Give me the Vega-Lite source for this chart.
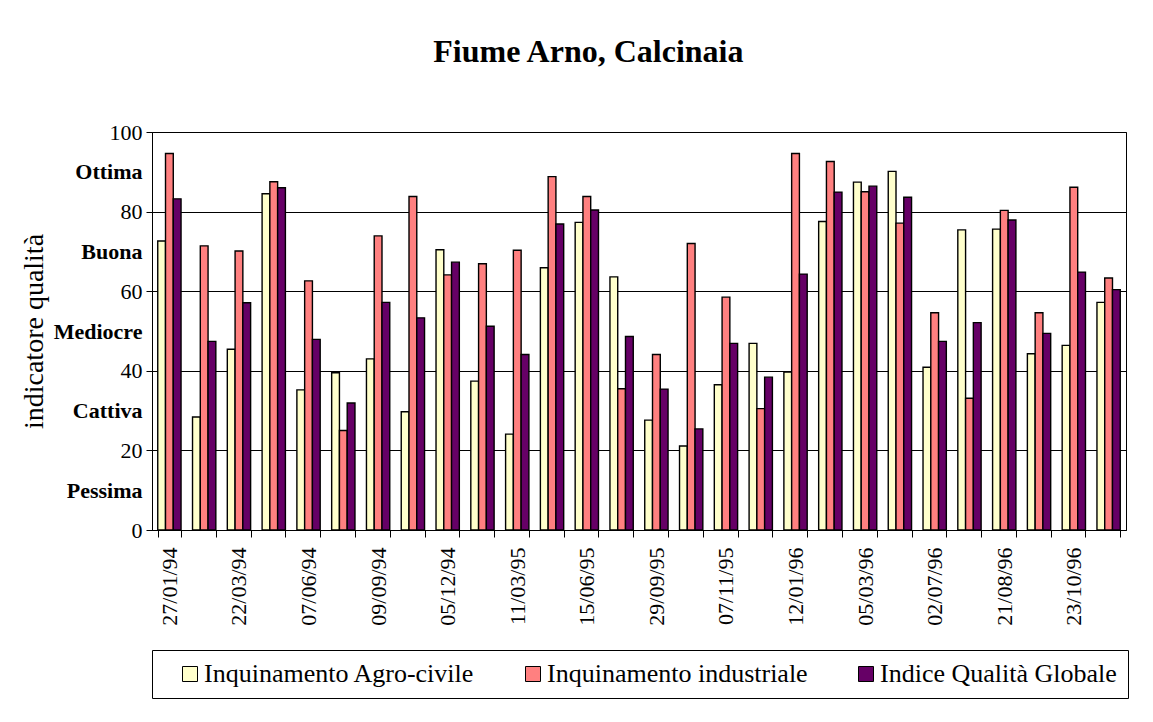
{
  "$schema": "https://vega.github.io/schema/vega-lite/v6.json",
  "autosize": "none",
  "width": 974,
  "height": 398,
  "padding": {"left": 152, "top": 132, "right": 27, "bottom": 192},
  "background": "white",
  "config": {
    "font": "Liberation Serif",
    "view": {"stroke": "black", "strokeWidth": 1}
  },
  "title": {
    "text": "Fiume Arno, Calcinaia",
    "font": "Liberation Serif",
    "fontSize": 32,
    "fontWeight": "bold",
    "color": "black",
    "anchor": "middle",
    "frame": "bounds",
    "dx": 14,
    "offset": 52
  },
  "data": {
    "values": [
      {"data": "27/01/94", "serie": "Inquinamento Agro-civile", "valore": 72.6},
      {"data": "27/01/94", "serie": "Inquinamento industriale", "valore": 94.6},
      {"data": "27/01/94", "serie": "Indice Qualità Globale", "valore": 83.2},
      {"data": "g02", "serie": "Inquinamento Agro-civile", "valore": 28.4},
      {"data": "g02", "serie": "Inquinamento industriale", "valore": 71.4},
      {"data": "g02", "serie": "Indice Qualità Globale", "valore": 47.4},
      {"data": "22/03/94", "serie": "Inquinamento Agro-civile", "valore": 45.4},
      {"data": "22/03/94", "serie": "Inquinamento industriale", "valore": 70.1},
      {"data": "22/03/94", "serie": "Indice Qualità Globale", "valore": 57.1},
      {"data": "g04", "serie": "Inquinamento Agro-civile", "valore": 84.5},
      {"data": "g04", "serie": "Inquinamento industriale", "valore": 87.5},
      {"data": "g04", "serie": "Indice Qualità Globale", "valore": 86.0},
      {"data": "07/06/94", "serie": "Inquinamento Agro-civile", "valore": 35.2},
      {"data": "07/06/94", "serie": "Inquinamento industriale", "valore": 62.6},
      {"data": "07/06/94", "serie": "Indice Qualità Globale", "valore": 47.9},
      {"data": "g06", "serie": "Inquinamento Agro-civile", "valore": 39.5},
      {"data": "g06", "serie": "Inquinamento industriale", "valore": 25.0},
      {"data": "g06", "serie": "Indice Qualità Globale", "valore": 31.9},
      {"data": "09/09/94", "serie": "Inquinamento Agro-civile", "valore": 43.0},
      {"data": "09/09/94", "serie": "Inquinamento industriale", "valore": 73.9},
      {"data": "09/09/94", "serie": "Indice Qualità Globale", "valore": 57.2},
      {"data": "g08", "serie": "Inquinamento Agro-civile", "valore": 29.7},
      {"data": "g08", "serie": "Inquinamento industriale", "valore": 83.8},
      {"data": "g08", "serie": "Indice Qualità Globale", "valore": 53.3},
      {"data": "05/12/94", "serie": "Inquinamento Agro-civile", "valore": 70.4},
      {"data": "05/12/94", "serie": "Inquinamento industriale", "valore": 64.1},
      {"data": "05/12/94", "serie": "Indice Qualità Globale", "valore": 67.3},
      {"data": "g10", "serie": "Inquinamento Agro-civile", "valore": 37.4},
      {"data": "g10", "serie": "Inquinamento industriale", "valore": 66.9},
      {"data": "g10", "serie": "Indice Qualità Globale", "valore": 51.2},
      {"data": "11/03/95", "serie": "Inquinamento Agro-civile", "valore": 24.1},
      {"data": "11/03/95", "serie": "Inquinamento industriale", "valore": 70.3},
      {"data": "11/03/95", "serie": "Indice Qualità Globale", "valore": 44.1},
      {"data": "g12", "serie": "Inquinamento Agro-civile", "valore": 65.9},
      {"data": "g12", "serie": "Inquinamento industriale", "valore": 88.8},
      {"data": "g12", "serie": "Indice Qualità Globale", "valore": 76.9},
      {"data": "15/06/95", "serie": "Inquinamento Agro-civile", "valore": 77.3},
      {"data": "15/06/95", "serie": "Inquinamento industriale", "valore": 83.8},
      {"data": "15/06/95", "serie": "Indice Qualità Globale", "valore": 80.4},
      {"data": "g14", "serie": "Inquinamento Agro-civile", "valore": 63.6},
      {"data": "g14", "serie": "Inquinamento industriale", "valore": 35.5},
      {"data": "g14", "serie": "Indice Qualità Globale", "valore": 48.6},
      {"data": "29/09/95", "serie": "Inquinamento Agro-civile", "valore": 27.6},
      {"data": "29/09/95", "serie": "Inquinamento industriale", "valore": 44.1},
      {"data": "29/09/95", "serie": "Indice Qualità Globale", "valore": 35.4},
      {"data": "g16", "serie": "Inquinamento Agro-civile", "valore": 21.1},
      {"data": "g16", "serie": "Inquinamento industriale", "valore": 72.0},
      {"data": "g16", "serie": "Indice Qualità Globale", "valore": 25.4},
      {"data": "07/11/95", "serie": "Inquinamento Agro-civile", "valore": 36.5},
      {"data": "07/11/95", "serie": "Inquinamento industriale", "valore": 58.5},
      {"data": "07/11/95", "serie": "Indice Qualità Globale", "valore": 46.9},
      {"data": "g18", "serie": "Inquinamento Agro-civile", "valore": 46.9},
      {"data": "g18", "serie": "Inquinamento industriale", "valore": 30.5},
      {"data": "g18", "serie": "Indice Qualità Globale", "valore": 38.4},
      {"data": "12/01/96", "serie": "Inquinamento Agro-civile", "valore": 39.7},
      {"data": "12/01/96", "serie": "Inquinamento industriale", "valore": 94.6},
      {"data": "12/01/96", "serie": "Indice Qualità Globale", "valore": 64.3},
      {"data": "g20", "serie": "Inquinamento Agro-civile", "valore": 77.5},
      {"data": "g20", "serie": "Inquinamento industriale", "valore": 92.6},
      {"data": "g20", "serie": "Indice Qualità Globale", "valore": 84.9},
      {"data": "05/03/96", "serie": "Inquinamento Agro-civile", "valore": 87.4},
      {"data": "05/03/96", "serie": "Inquinamento industriale", "valore": 85.0},
      {"data": "05/03/96", "serie": "Indice Qualità Globale", "valore": 86.4},
      {"data": "g22", "serie": "Inquinamento Agro-civile", "valore": 90.1},
      {"data": "g22", "serie": "Inquinamento industriale", "valore": 77.1},
      {"data": "g22", "serie": "Indice Qualità Globale", "valore": 83.6},
      {"data": "02/07/96", "serie": "Inquinamento Agro-civile", "valore": 40.9},
      {"data": "02/07/96", "serie": "Inquinamento industriale", "valore": 54.6},
      {"data": "02/07/96", "serie": "Indice Qualità Globale", "valore": 47.4},
      {"data": "g24", "serie": "Inquinamento Agro-civile", "valore": 75.4},
      {"data": "g24", "serie": "Inquinamento industriale", "valore": 33.1},
      {"data": "g24", "serie": "Indice Qualità Globale", "valore": 52.1},
      {"data": "21/08/96", "serie": "Inquinamento Agro-civile", "valore": 75.6},
      {"data": "21/08/96", "serie": "Inquinamento industriale", "valore": 80.3},
      {"data": "21/08/96", "serie": "Indice Qualità Globale", "valore": 77.9},
      {"data": "g26", "serie": "Inquinamento Agro-civile", "valore": 44.3},
      {"data": "g26", "serie": "Inquinamento industriale", "valore": 54.6},
      {"data": "g26", "serie": "Indice Qualità Globale", "valore": 49.4},
      {"data": "23/10/96", "serie": "Inquinamento Agro-civile", "valore": 46.4},
      {"data": "23/10/96", "serie": "Inquinamento industriale", "valore": 86.1},
      {"data": "23/10/96", "serie": "Indice Qualità Globale", "valore": 64.8},
      {"data": "g28", "serie": "Inquinamento Agro-civile", "valore": 57.2},
      {"data": "g28", "serie": "Inquinamento industriale", "valore": 63.3},
      {"data": "g28", "serie": "Indice Qualità Globale", "valore": 60.4}
    ]
  },
  "mark": {"type": "bar", "stroke": "black", "strokeWidth": 1.4},
  "encoding": {
    "x": {
      "field": "data",
      "type": "nominal",
      "sort": null,
      "title": null,
      "scale": {"paddingInner": 0.33, "paddingOuter": 0.165},
      "axis": {
        "labelExpr": "datum.value < 'a' ? datum.value : ''",
        "labelAngle": -90,
        "labelFont": "Liberation Serif",
        "labelFontSize": 22,
        "labelColor": "black",
        "labelPadding": 10,
        "tickBand": "extent",
        "tickSize": 7,
        "tickColor": "black",
        "domainColor": "black",
        "labelOverlap": false
      }
    },
    "xOffset": {
      "field": "serie",
      "type": "nominal",
      "sort": ["Inquinamento Agro-civile", "Inquinamento industriale", "Indice Qualità Globale"],
      "scale": {"paddingInner": 0, "paddingOuter": 0}
    },
    "y": {
      "field": "valore",
      "type": "quantitative",
      "title": "indicatore qualità",
      "scale": {"domain": [0, 100], "nice": false},
      "axis": {
        "values": [0, 10, 20, 30, 40, 50, 60, 70, 80, 90, 100],
        "labelExpr": "datum.value == 10 ? 'Pessima' : datum.value == 30 ? 'Cattiva' : datum.value == 50 ? 'Mediocre' : datum.value == 70 ? 'Buona' : datum.value == 90 ? 'Ottima' : datum.label",
        "labelFontWeight": {"condition": {"test": "datum.value % 20 == 10", "value": "bold"}, "value": "normal"},
        "tickOpacity": {"condition": {"test": "datum.value % 20 == 10", "value": 0}, "value": 1},
        "gridOpacity": {"condition": {"test": "datum.value % 20 == 10", "value": 0}, "value": 1},
        "grid": true,
        "gridColor": "black",
        "gridWidth": 1,
        "labelFont": "Liberation Serif",
        "labelFontSize": 22,
        "labelColor": "black",
        "labelPadding": 4,
        "tickSize": 6,
        "tickColor": "black",
        "domainColor": "black",
        "titleFont": "Liberation Serif",
        "titleFontSize": 28,
        "titleFontWeight": "normal",
        "titleColor": "black",
        "titlePadding": 5,
        "labelOverlap": false
      }
    },
    "color": {
      "field": "serie",
      "type": "nominal",
      "sort": ["Inquinamento Agro-civile", "Inquinamento industriale", "Indice Qualità Globale"],
      "scale": {
        "domain": ["Inquinamento Agro-civile", "Inquinamento industriale", "Indice Qualità Globale"],
        "range": ["#FFFFCC", "#FF8080", "#660066"]
      },
      "legend": {
        "title": null,
        "orient": "bottom",
        "direction": "horizontal",
        "offset": 24,
        "padding": 11,
        "strokeColor": "black",
        "fillColor": "white",
        "symbolType": "square",
        "symbolSize": 225,
        "symbolOffset": 14,
        "symbolStrokeColor": "black",
        "symbolStrokeWidth": 1,
        "symbolOpacity": 1,
        "labelFont": "Liberation Serif",
        "labelFontSize": 26,
        "labelColor": "black",
        "labelOffset": 1,
        "labelLimit": 400,
        "columnPadding": 31
      }
    }
  }
}
